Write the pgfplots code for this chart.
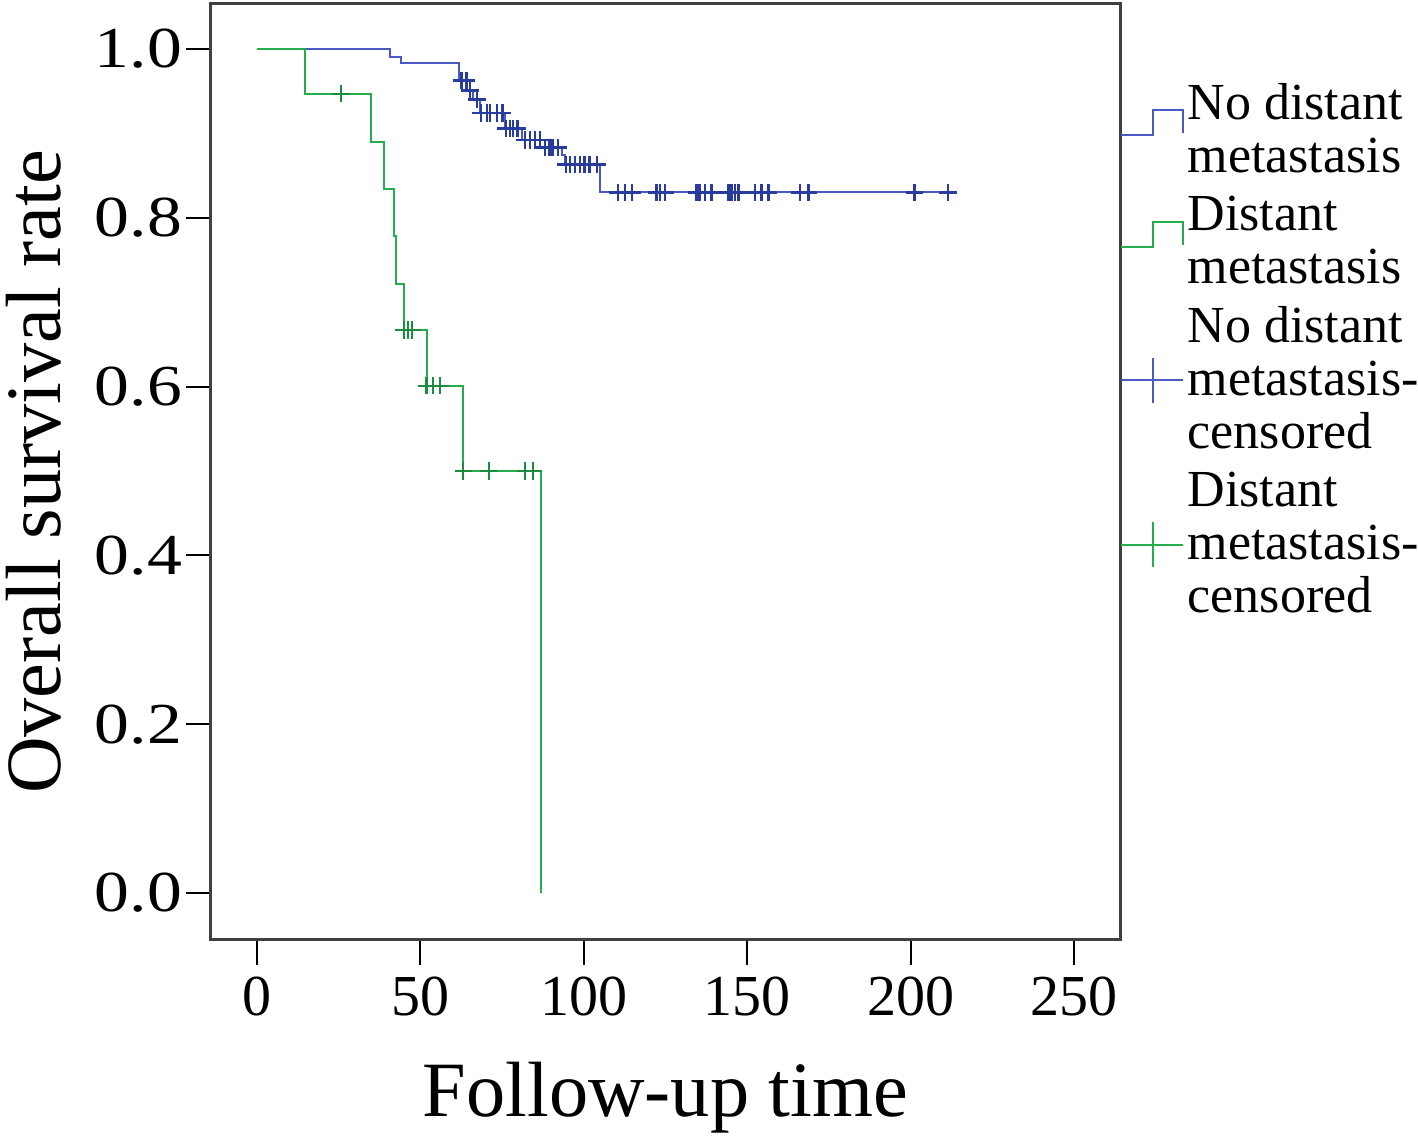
\documentclass[border=0pt]{standalone}
\usepackage{fontspec}
\setmainfont{Liberation Serif}
\usepackage{graphicx}
\usepackage{pgfplots}
\pgfplotsset{compat=1.18}
\definecolor{kmblue}{RGB}{75,90,195}
\definecolor{kmbluemark}{RGB}{40,60,160}
\definecolor{kmgreen}{RGB}{35,175,80}
\begin{document}
\begin{tikzpicture}
\begin{axis}[
  scale only axis, width=272.7pt, height=280.8pt,
  xmin=-14.1, xmax=264.1, ymin=-0.0557, ymax=1.0533,
  xtick={0,50,100,150,200,250}, ytick={0,0.2,0.4,0.6,0.8,1.0},
  xtick pos=bottom, ytick pos=left, tick align=outside,
  major tick length=7.5pt,
  tick style={black, line width=0.6pt},
  axis line style={line width=0.9pt, black!75},
  /pgf/number format/assume math mode=true,
  ticklabel style={font=\fontsize{17.4}{17.4}\selectfont},
  yticklabel={\scalebox{1.2}[1]{\pgfmathprintnumber[fixed,fixed zerofill,precision=1]{\tick}}},
  yticklabel style={inner sep=0pt, xshift=-1pt},
  xlabel={Follow-up time},
  xlabel style={font=\fontsize{23.5}{23.5}\selectfont, at={(axis description cs:0.5,-0.189)}, anchor=base},
  ylabel={Overall survival rate},
  ylabel style={font=\fontsize{23.5}{23.5}\selectfont, at={(axis description cs:-0.166,0.5)}, anchor=base},
  legend cell align=left,
  legend style={at={(axis description cs:1,0.922)}, anchor=north west, draw=none, fill=none,
    inner sep=0pt, outer sep=0pt, row sep=1.5pt,
    font=\fontsize{15.6}{15.9}\selectfont,
    cells={anchor=west, align=left, inner sep=0pt},
    /tikz/every odd column/.append style={column sep=-0.9pt}},
]
\addplot[const plot, kmblue, line width=0.6pt,
  legend image code/.code={\draw[kmblue, line width=0.6pt] (0pt,-1.35pt) -- (9.6pt,-1.35pt) -- (9.6pt,6.15pt) -- (18.6pt,6.15pt) -- (18.6pt,-0.8pt);}]
  coordinates {(0,1) (40.7,0.991) (44.2,0.983) (61.8,0.963) (64.3,0.951) (66.1,0.940)
  (68.2,0.924) (75.9,0.906) (81.1,0.892) (88.1,0.883) (93.3,0.874) (94.2,0.863)
  (105.0,0.830) (214,0.830)};
\addlegendentry{No distant\\metastasis}
\addplot[const plot, kmgreen, line width=0.6pt,
  legend image code/.code={\draw[kmgreen, line width=0.6pt] (0pt,-1.35pt) -- (9.6pt,-1.35pt) -- (9.6pt,6.15pt) -- (18.6pt,6.15pt) -- (18.6pt,-0.8pt);}]
  coordinates {(0,1) (14.7,0.947) (34.8,0.890) (39.0,0.834) (41.9,0.778) (42.4,0.722)
  (45.0,0.667) (51.9,0.601) (63.1,0.500) (86.9,0)};
\addlegendentry{Distant\\metastasis}
\addplot[only marks, mark=+, mark size=2.6pt, kmbluemark, line width=0.8pt,
  legend image code/.code={\draw[kmblue, line width=0.6pt] (0pt,0pt) -- (18.6pt,0pt); \draw[kmblue, line width=0.6pt] (9.6pt,-6.75pt) -- (9.6pt,6.75pt);}]
  coordinates {(62.6,0.963) (64.0,0.963) (65.2,0.951) (67.3,0.940)
  (68.5,0.924) (70.4,0.924) (71.3,0.924) (73.4,0.924) (75.2,0.924)
  (76.2,0.906) (77.4,0.906) (78.3,0.906) (79.8,0.906)
  (82.0,0.892) (83.5,0.892) (85.1,0.892) (86.6,0.892)
  (88.1,0.883) (89.6,0.883) (90.5,0.883) (92.1,0.883)
  (94.5,0.863) (95.8,0.863) (97.3,0.863) (98.8,0.863) (100.3,0.863) (101.8,0.863) (104.0,0.863)
  (110.5,0.830) (112.6,0.830) (114.7,0.830) (122.3,0.830) (123.3,0.830) (124.8,0.830)
  (134.5,0.830) (135.5,0.830) (137.1,0.830) (139.1,0.830) (144.2,0.830) (145.3,0.830)
  (146.3,0.830) (147.3,0.830) (152.4,0.830) (154.4,0.830) (156.5,0.830) (166.2,0.830)
  (168.7,0.830) (201.3,0.830) (211.5,0.830)};
\addlegendentry{No distant\\metastasis-\\censored}
\addplot[only marks, mark=+, mark size=2.6pt, kmgreen!80!black, line width=0.7pt,
  legend image code/.code={\draw[kmgreen, line width=0.6pt] (0pt,0pt) -- (18.6pt,0pt); \draw[kmgreen, line width=0.6pt] (9.6pt,-6.75pt) -- (9.6pt,6.75pt);}]
  coordinates {(25.7,0.947) (45.0,0.667) (46.2,0.667) (47.4,0.667)
  (51.9,0.601) (53.8,0.601) (56.0,0.601)
  (63.1,0.500) (70.9,0.500) (82.1,0.500) (84.5,0.500)};
\addlegendentry{Distant\\metastasis-\\censored}
\coordinate (SW) at (rel axis cs:0,0);
\coordinate (NE) at (rel axis cs:1,1);
\end{axis}
\pgfresetboundingbox
\path ([shift={(-63.3pt,-59.7pt)}]SW) rectangle ([shift={(89.4pt,1.2pt)}]NE);
\end{tikzpicture}
\end{document}
